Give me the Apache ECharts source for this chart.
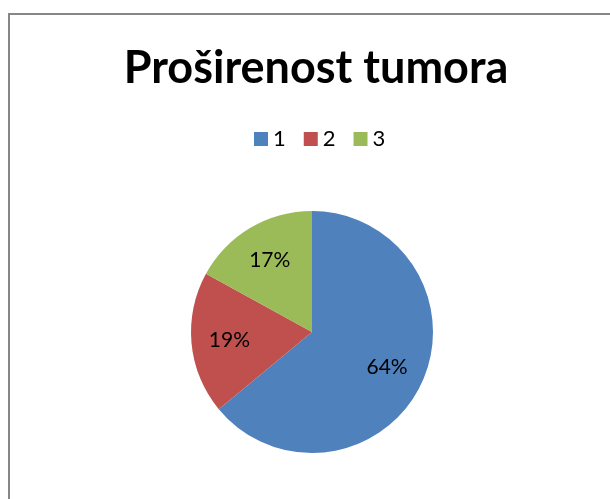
<!DOCTYPE html>
<html>
<head>
<meta charset="utf-8">
<script src="https://cdn.jsdelivr.net/npm/echarts@6/dist/echarts.min.js"></script>
<style>
  html, body { margin: 0; padding: 0; background: #fff; overflow: hidden; }
  #frame { position: absolute; left: 8px; top: 13px; width: 700px; height: 600px; border: 2px solid #878787; }
  #main { position: absolute; left: 0; top: 0; width: 610px; height: 499px; }
</style>
</head>
<body>
<div id="frame"></div>
<div id="main"></div>
<script>
// kategorije i udjeli (%)
var categories = ['1', '2', '3'];
var values = [64, 19, 17];
var colors = ['#4f81bd', '#c0504d', '#9bbb59'];

var pieData = categories.map(function (c, i) {
    return { name: c, value: values[i], itemStyle: { color: colors[i] } };
});

var myChart = echarts.init(document.getElementById('main'));
var option = {
    animation: false,
    title: {
        text: 'Proširenost tumora',
        left: 311,
        textAlign: 'center',
        top: 41,
        textStyle: { fontFamily: 'Lato', fontWeight: 'bold', fontSize: 45, color: '#000' }
    },
    legend: {
        data: categories,
        top: 123,
        left: 249,
        icon: 'rect',
        itemWidth: 14,
        itemHeight: 14,
        itemGap: 18,
        textStyle: { fontFamily: 'Lato', fontSize: 22, color: '#000' }
    },
    series: [
        {
            type: 'pie',
            center: [312, 332],
            radius: [0, 121],
            startAngle: 90,
            clockwise: true,
            label: { show: false },
            labelLine: { show: false },
            data: pieData
        },
        {
            // samo natpisi, postavljeni dalje od sredine
            type: 'pie',
            silent: true,
            center: [312, 332],
            radius: [40, 120],
            startAngle: 90,
            clockwise: true,
            itemStyle: { color: 'rgba(0,0,0,0)' },
            label: {
                show: true,
                position: 'inside',
                formatter: '{c}%',
                fontFamily: 'Lato',
                fontSize: 21,
                color: '#000'
            },
            labelLine: { show: false },
            data: categories.map(function (c, i) {
                return { name: c, value: values[i], itemStyle: { color: 'rgba(0,0,0,0)' } };
            })
        }
    ]
};
myChart.setOption(option);
</script>
</body>
</html>
